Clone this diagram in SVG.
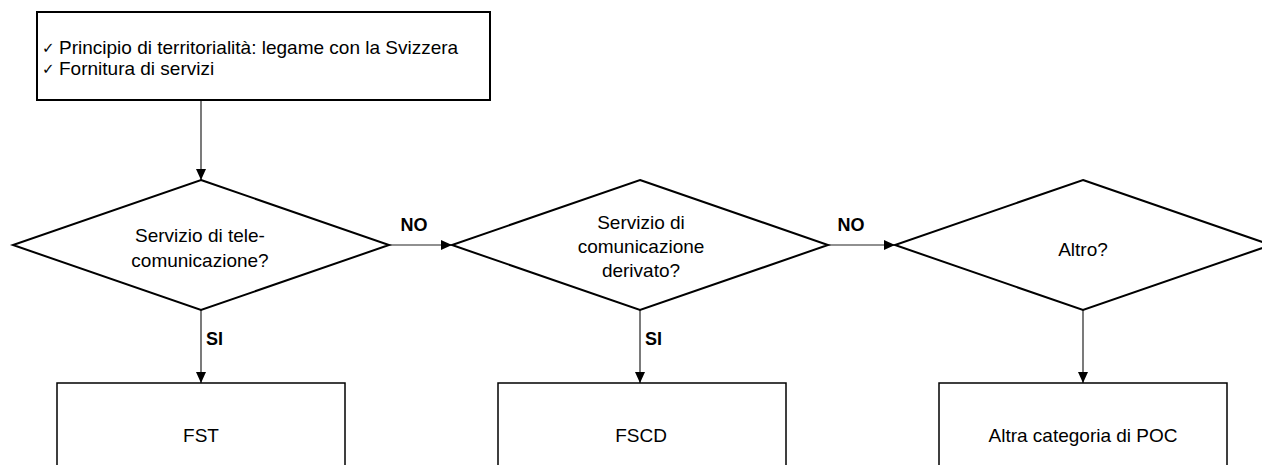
<svg xmlns="http://www.w3.org/2000/svg" width="1262" height="465" viewBox="0 0 1262 465">
<style>
text{font-family:"Liberation Sans",Arial,sans-serif;fill:#000;}
.t{font-size:19px;}
.ck{font-size:15px;font-family:"DejaVu Sans",sans-serif;}
.c{text-anchor:middle;}
.b{font-weight:bold;font-size:18px;}
.box{fill:#fff;stroke:#000;stroke-width:2;}
.rb{fill:#fff;stroke:#000;stroke-width:1.5;}
.dia{fill:#fff;stroke:#000;stroke-width:2;}
.con{fill:none;stroke:#222;stroke-width:1.2;}
</style>
<defs>
<marker id="ah" markerWidth="11" markerHeight="10" refX="11" refY="5" orient="auto" markerUnits="userSpaceOnUse">
<path d="M0,0 L11,5 L0,10 Z" fill="#000"/>
</marker>
</defs>
<rect width="1262" height="465" fill="#fff"/>
<g id="connectors">
<line class="con" x1="201" y1="100" x2="201" y2="180" marker-end="url(#ah)"/>
<line class="con" x1="389" y1="245" x2="452" y2="245" marker-end="url(#ah)"/>
<line class="con" x1="828" y1="245" x2="895" y2="245" marker-end="url(#ah)"/>
<line class="con" x1="201" y1="310" x2="201" y2="383" marker-end="url(#ah)"/>
<line class="con" x1="640" y1="310" x2="640" y2="383" marker-end="url(#ah)"/>
<line class="con" x1="1083" y1="310" x2="1083" y2="383" marker-end="url(#ah)"/>
<text class="b c" x="414" y="231">NO</text>
<text class="b c" x="851" y="231">NO</text>
<text class="b" x="206" y="345">SI</text>
<text class="b" x="645" y="345">SI</text>
</g>
<g id="start">
<rect class="box" x="37" y="12" width="453" height="88"/>
<text class="ck" x="42" y="53">✓</text>
<text class="t" x="59" y="54">Principio di territorialità: legame con la Svizzera</text>
<text class="ck" x="42" y="74">✓</text>
<text class="t" x="59" y="75">Fornitura di servizi</text>
</g>
<g id="d1">
<polygon class="dia" points="201,180 389,245 201,310 13,245"/>
<text class="t c" x="200" y="242">Servizio di tele-</text>
<text class="t c" x="200" y="267">comunicazione?</text>
</g>
<g id="d2">
<polygon class="dia" points="640,180 828,245 640,310 452,245"/>
<text class="t c" x="641" y="229">Servizio di</text>
<text class="t c" x="641" y="253">comunicazione</text>
<text class="t c" x="641" y="277">derivato?</text>
</g>
<g id="d3">
<polygon class="dia" points="1083,180 1271,245 1083,310 895,245"/>
<text class="t c" x="1083" y="256">Altro?</text>
</g>
<g id="fst">
<rect class="rb" x="57" y="383" width="288" height="110"/>
<text class="t c" x="201" y="442">FST</text>
</g>
<g id="fscd">
<rect class="rb" x="498" y="383" width="288" height="110"/>
<text class="t c" x="641" y="442">FSCD</text>
</g>
<g id="altra">
<rect class="rb" x="939" y="383" width="288" height="110"/>
<text class="t c" x="1083" y="442">Altra categoria di POC</text>
</g>
</svg>
